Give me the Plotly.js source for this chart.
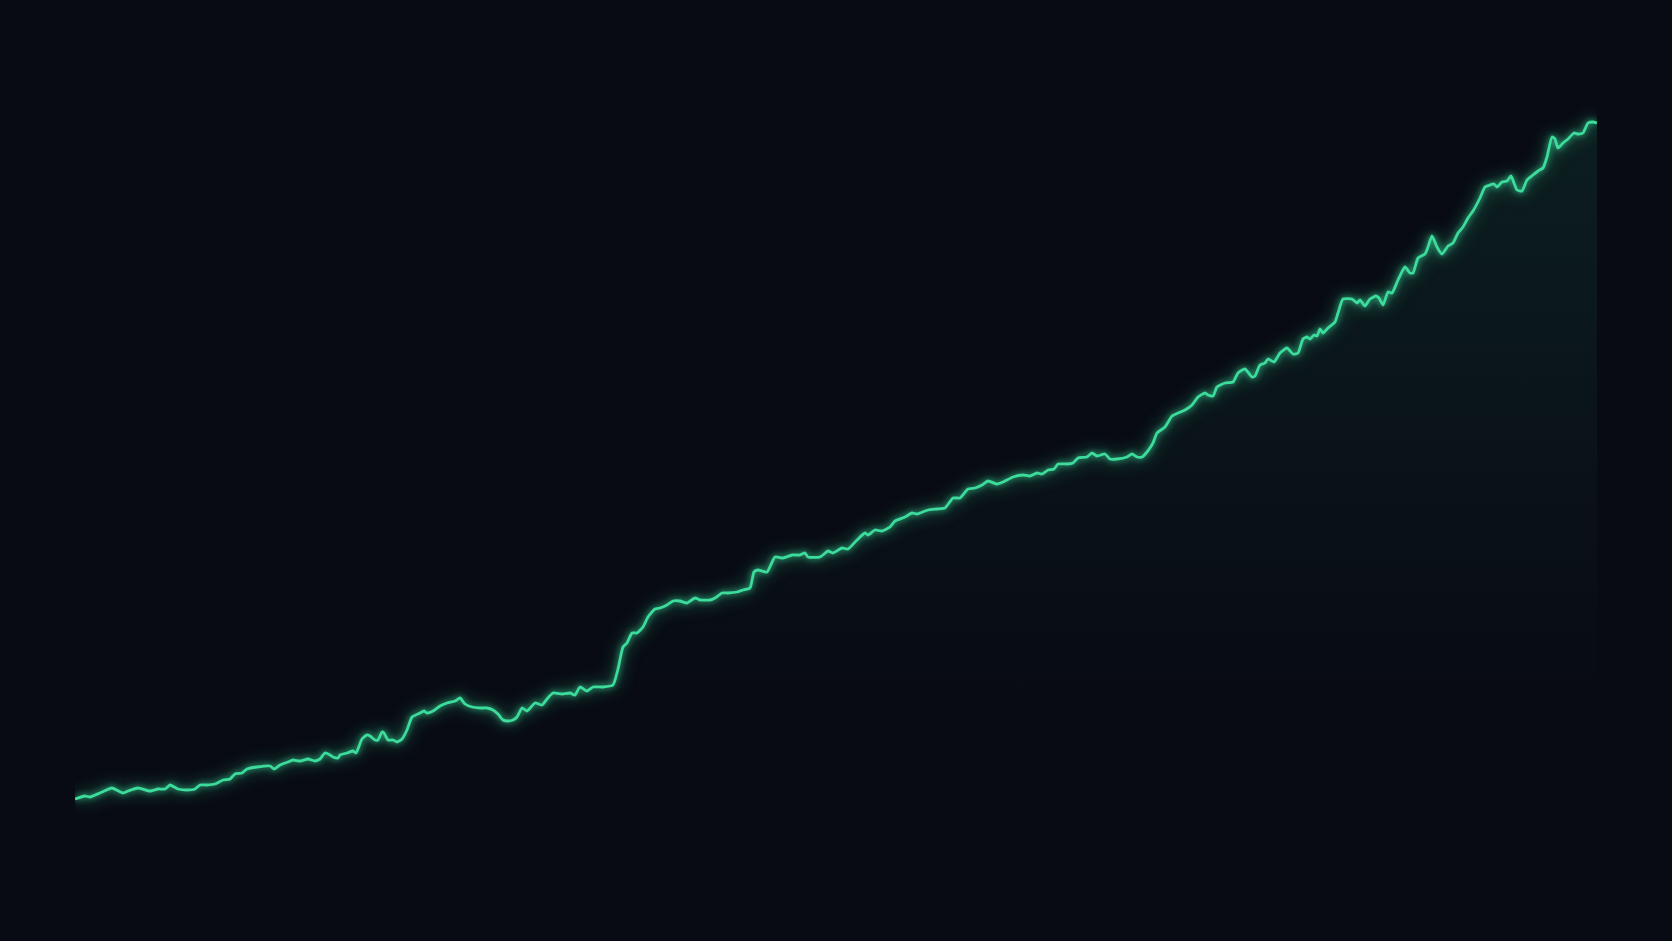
<!DOCTYPE html>
<html>
<head>
<meta charset="utf-8">
<script src="https://cdn.plot.ly/plotly-3.0.1.min.js"></script>
<style>
  html, body { margin: 0; padding: 0; background: #080b13; }
  #chart { width: 1672px; height: 941px; }
  #chart .scatterlayer .trace .js-line { filter: drop-shadow(0 0 3px rgba(60, 224, 160, 0.9)) drop-shadow(0 0 8px rgba(52, 211, 153, 0.55)); }
</style>
</head>
<body>
<div id="chart"></div>
<script>
// Day index (x) and value (y)
const days = [0,10,15,25,37,48,53,63,75,83,90,95,103,112,120,125,132,140,148,155,160,167,172,182,195,199,205,213,218,225,233,240,245,250,255,258,263,265,272,278,281,
287,292,295,300,303,307,309,313,318,322,327,332,337,345,349,352,358,365,372,380,385,390,397,405,412,418,423,428,433,438,442,447,452,460,467,472,478,487,495,500,505,512,518,528,538,
543,548,552,557,562,568,573,580,585,592,598,605,612,620,625,635,640,647,653,662,668,675,679,683,692,700,708,717,725,730,733,745,753,758,767,773,782,790,793,800,807,
815,820,830,837,842,853,862,870,878,885,893,900,907,913,922,928,938,948,955,962,967,973,979,983,992,998,1003,1012,1017,1022,1030,1035,1042,1052,1057,1062,1067,
1072,1078,1082,1090,1097,1103,1110,1117,1123,1130,1133,1138,1142,1150,1158,1163,1170,1177,1180,1185,1190,1193,1199,1205,1212,1218,1223,1228,1232,1235,1239,1242,1245,1248,1253,1260,1263,1268,1277,1282,1285,1290,1295,1301,1304,1308,1313,1317,1323,1330,1335,1338,1343,1350,1353,1357,1362,1367,1373,1378,1383,1388,1393,1398,1405,1410,1415,1419,1422,1427,1432,1436,1439,1442,1447,1452,1458,1463,1468,1472,1477,1480,1483,1488,1493,1499,1503,1508,1513,1518,1522];
const values = [51,54,53,57,62,57,59,62,59,61,61,65,61,60,61,65,65,66,70,71,76,77,81,83,84,81,85,88,90,89,91,89,91,97,95,93,92,95,97,99,97,
111,115,114,110,110,118,117,110,110,108,111,120,133,137,139,137,139,144,147,149,152,146,143,142,142,140,136,130,129,130,133,142,139,147,145,151,157,156,157,155,163,159,163,163,165,
181,203,207,217,217,223,233,241,242,245,249,249,247,252,250,250,252,257,257,258,260,262,278,280,278,293,292,295,295,297,293,293,299,297,302,301,310,317,315,320,319,
323,329,333,337,336,340,341,342,352,352,361,362,365,369,366,368,373,375,374,377,376,380,381,386,386,387,392,393,397,394,396,391,391,393,396,393,393,
398,407,417,423,434,437,440,445,453,457,455,454,463,467,468,477,481,473,474,485,487,491,488,497,502,496,497,511,513,511,515,514,521,517,522,528,537,551,551,547,550,544,551,554,552,545,558,557,570,583,577,577,592,596,603,614,603,596,604,607,617,623,632,639,652,663,665,666,663,668,669,674,667,660,659,670,675,679,682,693,713,711,702,707,711,717,716,717,727,728,727];

const lineColor = '#3ddc9c';
const bg = '#080b13';

const data = [{
  x: days,
  y: values,
  type: 'scatter',
  mode: 'lines',
  line: { color: lineColor, width: 2.8, shape: 'spline', smoothing: 0.5 },
  fill: 'tozeroy',
  fillcolor: 'rgba(52,211,153,0.06)',
  fillgradient: {
    type: 'vertical',
    start: 150,
    stop: 728,
    colorscale: [[0, 'rgba(52,211,153,0)'], [1, 'rgba(52,211,153,0.095)']]
  },
  hoverinfo: 'skip'
}];

const layout = {
  width: 1672,
  height: 941,
  paper_bgcolor: bg,
  plot_bgcolor: bg,
  margin: { l: 75, r: 75, t: 0, b: 0 },
  showlegend: false,
  xaxis: { range: [0, 1522], visible: false, showgrid: false, zeroline: false, fixedrange: true },
  yaxis: { range: [-91, 850], visible: false, showgrid: false, zeroline: false, fixedrange: true }
};

Plotly.newPlot('chart', data, layout, { displayModeBar: false, staticPlot: true });
</script>
</body>
</html>
